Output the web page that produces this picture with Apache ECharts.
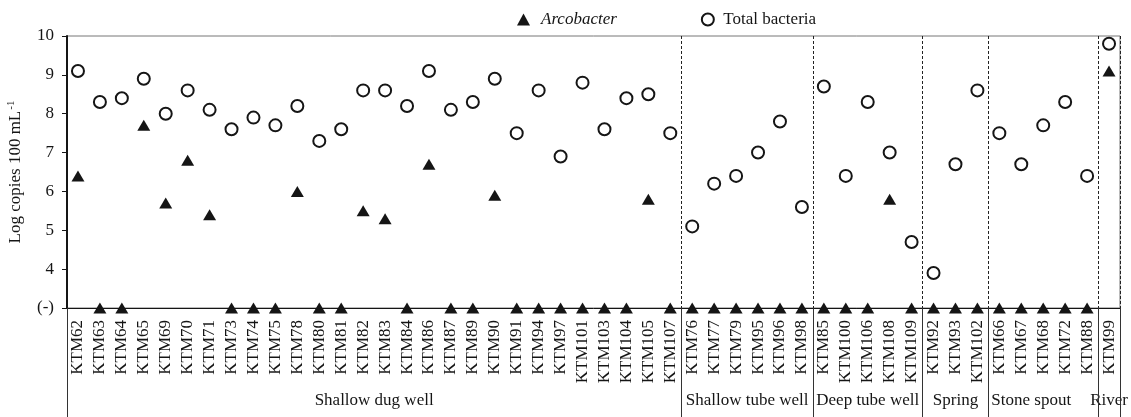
<!DOCTYPE html>
<html><head><meta charset="utf-8">
<script src="https://cdn.jsdelivr.net/npm/echarts@6/dist/echarts.min.js"></script>
<style>html,body{margin:0;padding:0;background:#fff}#c{width:1131px;height:417px}</style>
</head><body><div id="c"></div>
<script>
// Sampling sites (x categories)
const categories = [
  'KTM62','KTM63','KTM64','KTM65','KTM69','KTM70','KTM71','KTM73','KTM74','KTM75',
  'KTM78','KTM80','KTM81','KTM82','KTM83','KTM84','KTM86','KTM87','KTM89','KTM90',
  'KTM91','KTM94','KTM97','KTM101','KTM103','KTM104','KTM105','KTM107',
  'KTM76','KTM77','KTM79','KTM95','KTM96','KTM98',
  'KTM85','KTM100','KTM106','KTM108','KTM109',
  'KTM92','KTM93','KTM102',
  'KTM66','KTM67','KTM68','KTM72','KTM88',
  'KTM99'
];
// Source groups
const groupNames = ['Shallow dug well','Shallow tube well','Deep tube well','Spring','Stone spout','River'];
const groupSizes = [28, 6, 5, 3, 5, 1];
// Y axis ticks; the lowest level is shown as "(-)" = not detected
const yTickValues = [3, 4, 5, 6, 7, 8, 9, 10];
const yTickLabels = ['(-)', '4', '5', '6', '7', '8', '9', '10'];
const ND = 3; // "(-)" not detected
// Log copies 100 mL-1
const arcobacter = [
  6.4, ND, ND, 7.7, 5.7, 6.8, 5.4, ND, ND, ND,
  6.0, ND, ND, 5.5, 5.3, ND, 6.7, ND, ND, 5.9,
  ND, ND, ND, ND, ND, ND, 5.8, ND,
  ND, ND, ND, ND, ND, ND,
  ND, ND, ND, 5.8, ND,
  ND, ND, ND,
  ND, ND, ND, ND, ND,
  9.1
];
const totalBacteria = [
  9.1, 8.3, 8.4, 8.9, 8.0, 8.6, 8.1, 7.6, 7.9, 7.7,
  8.2, 7.3, 7.6, 8.6, 8.6, 8.2, 9.1, 8.1, 8.3, 8.9,
  7.5, 8.6, 6.9, 8.8, 7.6, 8.4, 8.5, 7.5,
  5.1, 6.2, 6.4, 7.0, 7.8, 5.6,
  8.7, 6.4, 8.3, 7.0, 4.7,
  3.9, 6.7, 8.6,
  7.5, 6.7, 7.7, 8.3, 6.4,
  9.8
];

const FONT = '"Liberation Serif","DejaVu Serif",serif';
const INK = '#151515';

const boundaries = [0];
groupSizes.forEach(s => boundaries.push(boundaries[boundaries.length - 1] + s));

const chart = echarts.init(document.getElementById('c'), null, {renderer: 'canvas'});
chart.setOption({
  animation: false,
  backgroundColor: '#fff',
  legend: {
    left: 512, top: 6,
    itemGap: 84,
    itemWidth: 13, itemHeight: 12,
    data: ['Arcobacter', 'Total bacteria'],
    textStyle: {
      fontFamily: FONT, fontSize: 17, color: INK, padding: [0, 0, 0, 4],
      rich: {it: {fontFamily: FONT, fontSize: 17, fontStyle: 'italic', color: INK, padding: [0, 0, 0, 2]}}
    },
    formatter: n => n === 'Arcobacter' ? '{it|Arcobacter}' : n
  },
  grid: {
    left: 67, right: 11, top: 36, bottom: 109,
    containLabel: false, outerBoundsMode: 'none',
    show: true, borderColor: '#777', borderWidth: 1, backgroundColor: 'transparent'
  },
  xAxis: {
    type: 'category',
    data: categories,
    boundaryGap: true,
    axisLine: {show: true, lineStyle: {color: INK, width: 1}},
    axisTick: {
      show: true, length: 109, lineStyle: {color: '#333', width: 1},
      interval: (i) => boundaries.indexOf(i) !== -1
    },
    splitLine: {
      show: true, lineStyle: {color: '#222', width: 1, type: [3, 2]},
      interval: (i) => i > 0 && boundaries.indexOf(i) !== -1
    },
    axisLabel: {
      interval: 0, rotate: 90, margin: 12,
      fontFamily: FONT, fontSize: 17, color: INK
    }
  },
  yAxis: {
    type: 'value',
    min: 3, max: 10, interval: 1,
    name: 'Log copies 100 mL{sup|-1}',
    nameLocation: 'middle',
    nameGap: 41,
    nameTextStyle: {
      fontFamily: FONT, fontSize: 17, color: INK,
      rich: {sup: {fontFamily: FONT, fontSize: 11, color: INK, verticalAlign: 'top', padding: [0, 0, 9, 1]}}
    },
    axisLine: {show: true, lineStyle: {color: INK, width: 2}},
    axisTick: {show: true, length: 5, lineStyle: {color: INK, width: 1}},
    splitLine: {show: false},
    axisLabel: {
      margin: 13, fontFamily: FONT, fontSize: 17, color: INK,
      formatter: v => { const k = yTickValues.indexOf(v); return k >= 0 ? yTickLabels[k] : ''; }
    }
  },
  series: [
    {
      name: 'Total bacteria', type: 'scatter',
      data: totalBacteria,
      symbol: 'circle', symbolSize: 12,
      itemStyle: {color: '#fff', borderColor: INK, borderWidth: 2, opacity: 1},
      z: 2
    },
    {
      name: 'Arcobacter', type: 'scatter',
      data: arcobacter,
      symbol: 'triangle', symbolSize: [13, 11],
      itemStyle: {color: INK, opacity: 1},
      z: 3
    }
  ]
});

// Group labels centred under each group using the axis scale
const graphics = [];
for (let g = 0; g < groupNames.length; g++) {
  const x0 = chart.convertToPixel({xAxisIndex: 0}, categories[boundaries[g]]);
  const x1 = chart.convertToPixel({xAxisIndex: 0}, categories[boundaries[g + 1] - 1]);
  let cx = (x0 + x1) / 2;
  if (groupNames[g] === 'Stone spout') cx -= 12;
  graphics.push({
    type: 'text', x: cx, y: 401,
    style: {text: groupNames[g], fontFamily: FONT, fontSize: 17, fill: INK, align: 'center', verticalAlign: 'middle'}
  });
}
chart.setOption({graphic: graphics});
</script>
</body></html>
